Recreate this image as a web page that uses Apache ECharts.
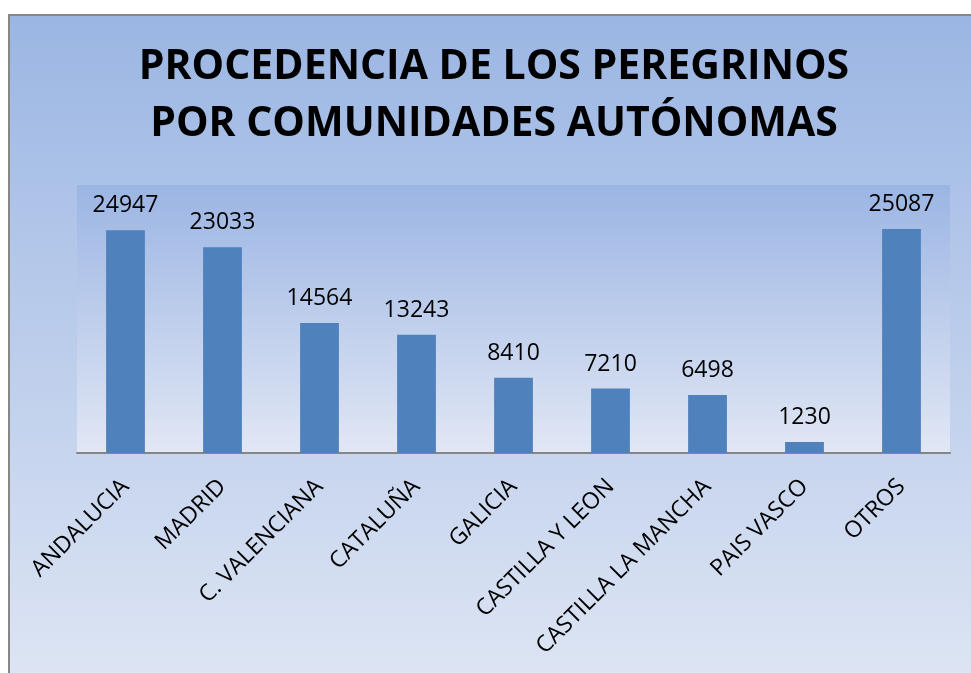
<!DOCTYPE html>
<html>
<head>
<meta charset="utf-8">
<script src="https://cdn.jsdelivr.net/npm/echarts@6/dist/echarts.min.js"></script>
<style>
  html, body { margin: 0; padding: 0; background: #fff; }
  #panel {
    position: absolute; left: 8px; top: 14px; width: 980px; height: 680px;
    border: 2px solid #878787;
    background: linear-gradient(to bottom, #9bb6e3 0%, #dfe6f4 100%);
  }
  #chart { position: absolute; left: 0; top: 0; width: 971px; height: 673px; }
</style>
</head>
<body>
<div id="panel"></div>
<div id="chart"></div>
<script>
// datos de la grafica
var regiones = ['ANDALUCIA', 'MADRID', 'C. VALENCIANA', 'CATALUÑA', 'GALICIA',
  'CASTILLA Y LEON', 'CASTILLA LA MANCHA', 'PAIS VASCO', 'OTROS'];
var peregrinos = [24947, 23033, 14564, 13243, 8410, 7210, 6498, 1230, 25087];
var titulo = 'PROCEDENCIA DE LOS PEREGRINOS\nPOR COMUNIDADES AUTÓNOMAS';

var chart = echarts.init(document.getElementById('chart'), null, { renderer: 'canvas' });

var option = {
  backgroundColor: 'transparent',
  animation: false,
  graphic: [{
    type: 'text',
    x: 494,
    y: 39,
    style: {
      text: titulo,
      align: 'center',
      verticalAlign: 'top',
      fontFamily: 'Open Sans',
      fontWeight: 'bold',
      fontSize: 41,
      lineHeight: 57,
      fill: '#000'
    }
  }],
  grid: {
    left: 77, right: 21, top: 185, bottom: 220,
    show: true,
    borderWidth: 0,
    backgroundColor: new echarts.graphic.LinearGradient(0, 0, 0, 1, [
      { offset: 0, color: '#9bb5e3' },
      { offset: 1, color: '#e1e7f5' }
    ])
  },
  xAxis: {
    type: 'category',
    data: regiones,
    axisLine: { lineStyle: { color: '#868686', width: 2 } },
    axisTick: { show: false },
    axisLabel: {
      interval: 0,
      rotate: 45,
      margin: 30,
      padding: [28, 0, 0, 0],
      fontFamily: 'Open Sans',
      fontSize: 23,
      color: '#000'
    }
  },
  yAxis: {
    type: 'value',
    min: 0,
    max: 30000,
    show: false,
    splitLine: { show: false }
  },
  series: [{
    type: 'bar',
    data: peregrinos,
    barWidth: '40%',
    itemStyle: { color: '#4f81bd' },
    label: {
      show: true,
      position: 'top',
      distance: 13,
      fontFamily: 'Open Sans',
      fontSize: 23,
      color: '#000'
    }
  }]
};

chart.setOption(option);
</script>
</body>
</html>
